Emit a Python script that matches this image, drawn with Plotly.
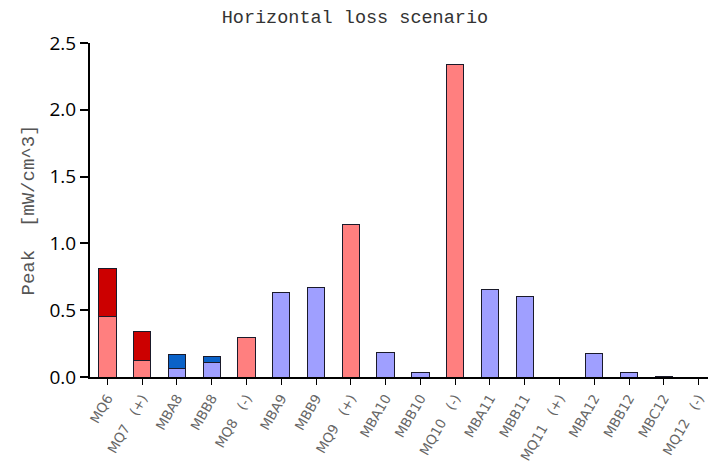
import plotly.graph_objects as go

NB = "\u00a0"
SP = NB * 3
categories = ["MQ6", "MQ7" + SP + "(+)", "MBA8", "MBB8", "MQ8" + SP + "(-)", "MBA9", "MBB9",
              "MQ9" + SP + "(+)", "MBA10", "MBB10", "MQ10" + SP + "(-)", "MBA11", "MBB11",
              "MQ11" + SP + "(+)", "MBA12", "MBB12", "MBC12", "MQ12" + SP + "(-)"]
base_values = [0.45, 0.12, 0.067, 0.107, 0.297, 0.636, 0.67, 1.145,
               0.18, 0.03, 2.34, 0.655, 0.60, 0.0, 0.177, 0.03, 0.005, 0.0]
top_values = [0.36, 0.22, 0.103, 0.045, 0.0, 0.0, 0.0, 0.0,
              0.0, 0.0, 0.0, 0.0, 0.0, 0.0, 0.0, 0.0, 0.0, 0.0]

is_quad = [c.startswith("MQ") for c in categories]
base_colors = ["#ff7f7f" if q else "#9f9fff" for q in is_quad]
top_colors = ["#cc0000" if q else "#0a62c8" for q in is_quad]

x_idx = list(range(len(categories)))

fig = go.Figure()
fig.add_trace(go.Bar(x=x_idx, y=base_values, width=0.5,
                     marker=dict(color=base_colors, line=dict(color="#1a1a2a", width=1))))
fig.add_trace(go.Bar(x=x_idx, y=top_values, width=0.5,
                     marker=dict(color=top_colors, line=dict(color="#1a1a2a", width=1))))

# page body has an 8px margin, so the figure is 8px smaller than the window
fig.update_layout(
    barmode="stack",
    width=708, height=455,
    margin=dict(l=82, r=0, t=35, b=86, autoexpand=False),
    paper_bgcolor="white", plot_bgcolor="white",
    showlegend=False,
    title=dict(text="Horizontal loss scenario", x=0.49, xref="container", xanchor="center",
               y=1 - 9 / 455, yref="container", yanchor="middle",
               font=dict(family="Liberation Mono", size=18.5, color="#333333")),
)
fig.update_xaxes(
    tickmode="array", tickvals=x_idx, ticktext=categories,
    range=[-0.5, len(categories) - 0.5],
    showline=True, linecolor="black", linewidth=2,
    ticks="outside", ticklen=6, tickcolor="black",
    tickangle=-60, showgrid=False, zeroline=False, automargin=False,
    tickfont=dict(family="DejaVu Sans", size=13.5, color="#666666"),
)
fig.update_yaxes(
    range=[0, 2.5], tickvals=[0, 0.5, 1.0, 1.5, 2.0, 2.5],
    ticktext=["0.0", "0.5", "1.0", "1.5", "2.0", "2.5"],
    showline=True, linecolor="black", linewidth=2,
    ticks="outside", ticklen=8, tickcolor="black", tickwidth=2,
    showgrid=False, zeroline=False, automargin=False,
    tickfont=dict(family="Open Sans", size=19, color="black"),
    title=dict(text="Peak" + NB * 2 + "[mW/cm^3]", standoff=10,
               font=dict(family="Liberation Mono", size=19, color="#555555")),
)

fig.write_html("out.html")
